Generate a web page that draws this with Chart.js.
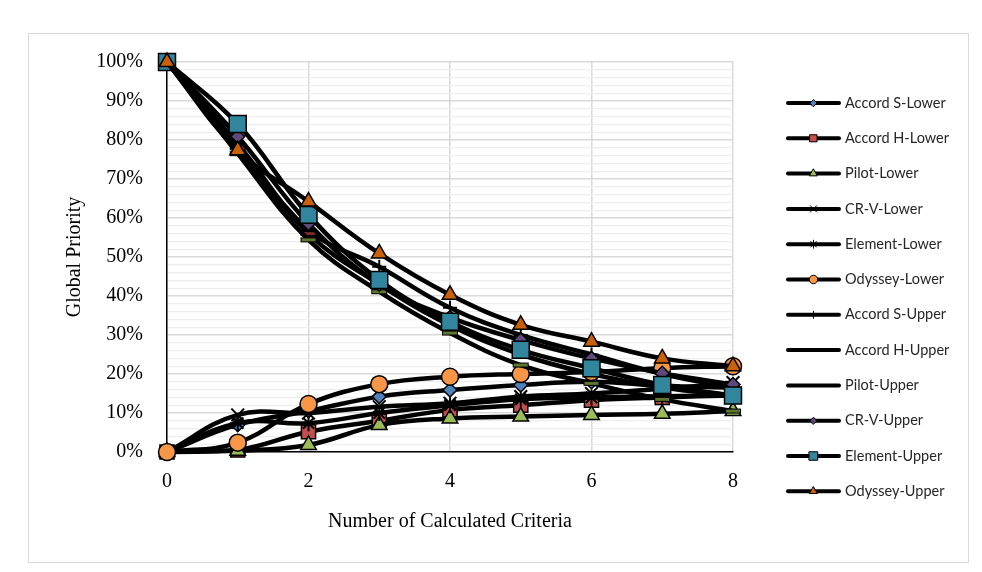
<!DOCTYPE html>
<html>
<head>
<meta charset="utf-8">
<script src="https://cdn.jsdelivr.net/npm/chart.js@4.4.1/dist/chart.umd.min.js"></script>
<style>
  html, body { margin: 0; padding: 0; background: #fff; }
  #wrap { position: relative; width: 982px; height: 572px; }
</style>
</head>
<body>
<div id="wrap"><canvas id="chart" width="982" height="572"></canvas></div>
<script>
// number of calculated criteria (x)
const criteria = [0, 1, 2, 3, 4, 5, 6, 7, 8];
const xTicks = [0, 2, 4, 6, 8];
const yTickLabels = [0, 10, 20, 30, 40, 50, 60, 70, 80, 90, 100];

// global priority, in %
const accordSLower  = [0, 7.0, 10.5, 14.2, 15.9, 17.2, 18.0, 17.0, 16.5];
const accordHLower  = [0, 0.5, 5.2, 8.0, 10.8, 12.0, 13.3, 14.0, 14.5];
const pilotLower    = [0, 0.3, 1.8, 6.9, 8.6, 9.1, 9.5, 9.8, 10.5];
const crvLower      = [0, 9.5, 10.0, 11.6, 12.5, 14.2, 15.0, 16.2, 17.8];
const elementLower  = [0, 7.4, 7.4, 10.0, 12.0, 13.5, 14.0, 14.3, 14.5];
const odysseyLower  = [0, 2.4, 12.3, 17.4, 19.3, 20.0, 20.5, 21.5, 22.0];
const accordSUpper  = [100, 79.0, 57.0, 47.5, 37.0, 30.0, 25.0, 20.0, 16.5];
const accordHUpper  = [100, 78.0, 56.0, 43.0, 32.5, 25.0, 20.0, 16.5, 14.5];
const pilotUpper    = [100, 76.5, 54.4, 41.1, 30.5, 22.3, 17.6, 13.5, 10.5];
const crvUpper      = [100, 80.9, 58.6, 43.0, 34.5, 28.7, 24.0, 20.2, 17.3];
const elementUpper  = [100, 84.1, 60.8, 44.1, 33.4, 26.2, 21.5, 17.2, 14.5];
const odysseyUpper  = [100, 77.4, 64.2, 50.9, 40.3, 32.6, 28.3, 24.0, 22.0];

// excel "dash" marker
function dashMarker(color) {
  const c = document.createElement('canvas');
  c.width = 18; c.height = 7;
  const g = c.getContext('2d');
  g.fillStyle = color;
  g.fillRect(1, 1, 16, 5);
  g.strokeStyle = '#000';
  g.lineWidth = 1;
  g.strokeRect(1.5, 1.5, 15, 4);
  return c;
}

const series = [
  { name: 'Accord S-Lower', values: accordSLower, marker: 'rectRot',  color: '#4F81BD', r: 7 },
  { name: 'Accord H-Lower', values: accordHLower, marker: 'rect',     color: '#C0504D', r: 10 },
  { name: 'Pilot-Lower',    values: pilotLower,   marker: 'triangle', color: '#9BBB59', r: 9 },
  { name: 'CR-V-Lower',     values: crvLower,     marker: 'crossRot', color: '#8064A2', r: 9 },
  { name: 'Element-Lower',  values: elementLower, marker: 'star',     color: '#4BACC6', r: 8 },
  { name: 'Odyssey-Lower',  values: odysseyLower, marker: 'circle',   color: '#F79646', r: 8.5 },
  { name: 'Accord S-Upper', values: accordSUpper, marker: 'cross',    color: '#2C4D75', r: 7 },
  { name: 'Accord H-Upper', values: accordHUpper, marker: dashMarker('#772C2A'), color: '#772C2A', r: 8 },
  { name: 'Pilot-Upper',    values: pilotUpper,   marker: dashMarker('#5F7530'), color: '#5F7530', r: 8 },
  { name: 'CR-V-Upper',     values: crvUpper,     marker: 'rectRot',  color: '#5F497A', r: 7 },
  { name: 'Element-Upper',  values: elementUpper, marker: 'rect',     color: '#31859C', r: 12 },
  { name: 'Odyssey-Upper',  values: odysseyUpper, marker: 'triangle', color: '#C8600C', r: 9 }
];

const frame = { left: 28, top: 33, right: 968, bottom: 562 };
const legendBox = { lineX1: 788, lineX2: 839, textX: 845, top: 103, gap: 35.3 };

const framePlugin = {
  id: 'frame',
  beforeDraw(chart) {
    const ctx = chart.ctx;
    ctx.save();
    ctx.fillStyle = '#fff';
    ctx.fillRect(0, 0, chart.width, chart.height);
    ctx.strokeStyle = '#d9d9d9';
    ctx.lineWidth = 1;
    ctx.strokeRect(frame.left + 0.5, frame.top + 0.5, frame.right - frame.left, frame.bottom - frame.top);
    ctx.restore();
  }
};

// legend with line + small marker, like excel
const sideLegend = {
  id: 'sideLegend',
  afterDraw(chart) {
    const ctx = chart.ctx;
    ctx.save();
    chart.data.datasets.forEach((ds, i) => {
      const y = legendBox.top + i * legendBox.gap;
      ctx.strokeStyle = '#000';
      ctx.lineWidth = 4;
      ctx.lineCap = 'round';
      ctx.beginPath();
      ctx.moveTo(legendBox.lineX1, y);
      ctx.lineTo(legendBox.lineX2, y);
      ctx.stroke();
      if (typeof ds.pointStyle === 'string') {
        const mid = (legendBox.lineX1 + legendBox.lineX2) / 2;
        ctx.fillStyle = ds.pointBackgroundColor;
        ctx.strokeStyle = '#000';
        ctx.lineWidth = 1;
        Chart.helpers.drawPoint(ctx, {
          pointStyle: ds.pointStyle, rotation: 0,
          radius: ds.pointRadius * 0.5, borderWidth: 1
        }, mid, y);
      }
      ctx.fillStyle = '#262626';
      ctx.font = '14.5px Lato';
      ctx.textBaseline = 'middle';
      ctx.textAlign = 'left';
      ctx.fillText(ds.label, legendBox.textX, y);
    });
    ctx.restore();
  }
};

const isLineMarker = m => m === 'cross' || m === 'crossRot' || m === 'star';

new Chart(document.getElementById('chart'), {
  type: 'line',
  data: {
    datasets: series.map((s, i) => ({
      label: s.name,
      data: s.values.map((v, k) => ({ x: criteria[k], y: v })),
      borderColor: '#000',
      borderWidth: 4.5,
      tension: 0.4,
      fill: false,
      pointStyle: s.marker,
      pointRadius: s.r,
      pointBackgroundColor: s.color,
      pointBorderColor: '#000',
      pointBorderWidth: isLineMarker(s.marker) ? 2 : 1.5,
      order: series.length - i,
      clip: false
    }))
  },
  options: {
    responsive: false,
    devicePixelRatio: 1,
    animation: false,
    events: [],
    layout: { padding: { left: 0, top: 62, right: 249, bottom: 0 } },
    plugins: {
      legend: { display: false },
      tooltip: { enabled: false }
    },
    scales: {
      x: {
        type: 'linear',
        min: 0,
        max: 8,
        afterFit: s => { s.height = 120; },
        afterBuildTicks: s => { s.ticks = xTicks.map(v => ({ value: v })); },
        grid: { color: '#d9d9d9', lineWidth: 1.5, drawTicks: false },
        border: { color: '#000', width: 1.5 },
        ticks: {
          padding: 18,
          color: '#000',
          font: { family: 'Liberation Serif', size: 20 }
        },
        title: {
          display: true,
          text: 'Number of Calculated Criteria',
          color: '#000',
          font: { family: 'Liberation Serif', size: 20 },
          padding: { top: 0, bottom: 38 }
        }
      },
      y: {
        min: 0,
        max: 100,
        afterFit: s => { s.width = 167; },
        ticks: {
          stepSize: 2,
          autoSkip: false,
          padding: 24,
          color: '#000',
          font: { family: 'Liberation Serif', size: 20 },
          callback: v => yTickLabels.includes(Math.round(v)) ? Math.round(v) + '%' : ''
        },
        grid: {
          drawTicks: false,
          color: c => (Math.round(c.tick.value) % 10 === 0) ? '#d9d9d9' : '#eeeeee',
          lineWidth: c => (Math.round(c.tick.value) % 10 === 0) ? 1.5 : 1.2
        },
        border: { color: '#000', width: 1.5 },
        title: {
          display: true,
          text: 'Global Priority',
          color: '#000',
          font: { family: 'Liberation Serif', size: 20 },
          padding: { top: 63, bottom: 0 }
        }
      }
    }
  },
  plugins: [framePlugin, sideLegend]
});
</script>
</body>
</html>
